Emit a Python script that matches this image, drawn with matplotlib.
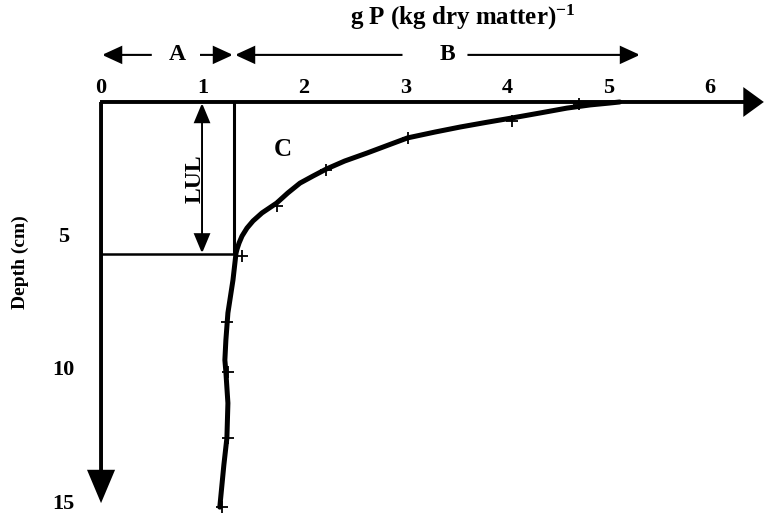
import matplotlib
matplotlib.use("Agg")
import matplotlib.pyplot as plt
from matplotlib.patches import FancyArrowPatch

plt.rcParams["font.family"] = ["Liberation Serif", "DejaVu Serif"]
plt.rcParams["font.weight"] = "bold"
plt.rcParams["mathtext.fontset"] = "custom"
plt.rcParams["mathtext.rm"] = "Liberation Serif:bold"
plt.rcParams["mathtext.it"] = "Liberation Serif:bold"
plt.rcParams["mathtext.bf"] = "Liberation Serif:bold"

# P concentration profile (g P per kg dry matter) against soil depth (cm)
curve_p = [5.11, 5.01, 4.82, 4.59, 4.33, 4.05, 3.79, 3.54, 3.29, 3.02, 2.83,
           2.62, 2.40, 2.22, 2.09, 1.96, 1.84, 1.73, 1.586, 1.498, 1.438, 1.389,
           1.36, 1.34, 1.33, 1.30, 1.25, 1.23, 1.22, 1.23, 1.25, 1.24, 1.21, 1.17]
curve_depth = [0.0, 0.04, 0.11, 0.23, 0.41, 0.60, 0.77, 0.94, 1.13, 1.35, 1.62,
               1.92, 2.22, 2.52, 2.78, 3.05, 3.42, 3.80, 4.17, 4.47, 4.74, 5.04,
               5.30, 5.53, 5.68, 6.69, 7.93, 8.95, 9.70, 10.15, 11.32, 12.63, 13.65, 15.23]

# sampled layers
sample_p = [4.71, 4.05, 3.02, 2.22, 1.73, 1.39, 1.24, 1.25, 1.25, 1.19]
sample_depth = [0.08, 0.71, 1.35, 2.56, 3.91, 5.79, 8.27, 10.15, 12.63, 15.23]

p_ticks = [0, 1, 2, 3, 4, 5, 6]
depth_ticks = [5, 10, 15]

lul_depth = 5.71      # lower limit of the enriched layer
background_p = 1.31   # background concentration (A / B boundary)
enriched_p_end = 5.31

fig = plt.figure(figsize=(7.66, 5.19), dpi=100)
ax = fig.add_axes([0.1319, 0.0193, 0.8613, 0.7842])
ax.set_xlim(0, 6.5)
ax.set_ylim(15.3, 0)
for s in ax.spines.values():
    s.set_visible(False)

ax.xaxis.tick_top()
ax.set_xticks(p_ticks)
ax.set_xticklabels([str(t) for t in p_ticks])
ax.tick_params(axis="x", length=0, pad=3, labelsize=16)
ax.set_yticks(depth_ticks)
ax.set_yticklabels([str(t) for t in depth_ticks])
ax.tick_params(axis="y", length=0, pad=27, labelsize=16)
for lab in ax.get_yticklabels():
    lab.set_horizontalalignment("center")


def arrow(p0, p1, style, lw, hl, hw):
    a = FancyArrowPatch(p0, p1, arrowstyle=f"{style},head_length={hl},head_width={hw}",
                        mutation_scale=1, lw=lw, color="black", shrinkA=0, shrinkB=0,
                        clip_on=False, joinstyle="miter", capstyle="butt")
    ax.add_patch(a)


# axes drawn as arrows
arrow((-0.01, 0), (6.53, 0), "-|>", 2.8, 11, 8)
arrow((0, 0), (0, 15.08), "-|>", 2.8, 19, 8)

# enriched layer box
ax.plot([background_p, background_p], [0, lul_depth], color="black", lw=2.2,
        solid_capstyle="butt")
ax.plot([0, background_p], [lul_depth, lul_depth], color="black", lw=1.8,
        solid_capstyle="butt")

# concentration curve and samples
ax.plot(curve_p, curve_depth, color="black", lw=3.6, solid_joinstyle="round",
        solid_capstyle="round", clip_on=False)
ax.plot(sample_p, sample_depth, linestyle="none", marker="+", ms=9, mew=1.3,
        color="black", clip_on=False)

# LUL double arrow
arrow((0.995, 0.04), (0.995, lul_depth - 0.02), "<|-|>", 1.4, 12, 5)
ax.text(0.926, 2.89, "LUL", rotation=90, ha="center", va="center", fontsize=17)
ax.text(1.79, 1.8, "C", ha="center", va="center", fontsize=18)

# A and B ranges above the axis
row = -1.77
arrow((0.50, row), (0.01, row), "-|>", 1.5, 12, 5.5)
arrow((0.975, row), (background_p - 0.01, row), "-|>", 1.5, 12, 5.5)
ax.text(0.75, row, "A", ha="center", va="center", fontsize=17)
arrow((2.97, row), (background_p + 0.01, row), "-|>", 1.5, 12, 5.5)
arrow((3.61, row), (enriched_p_end, row), "-|>", 1.5, 12, 5.5)
ax.text(3.41, row, "B", ha="center", va="center", fontsize=17)

fig.text(463 / 766, 1 - 17 / 519, r"g P (kg dry matter)$^{-1}$", ha="center",
         va="center", fontsize=18)
fig.text(20 / 766, 1 - 262 / 519, "Depth (cm)", rotation=90, ha="center",
         va="center", fontsize=14)

fig.savefig("out.png", dpi=100)
